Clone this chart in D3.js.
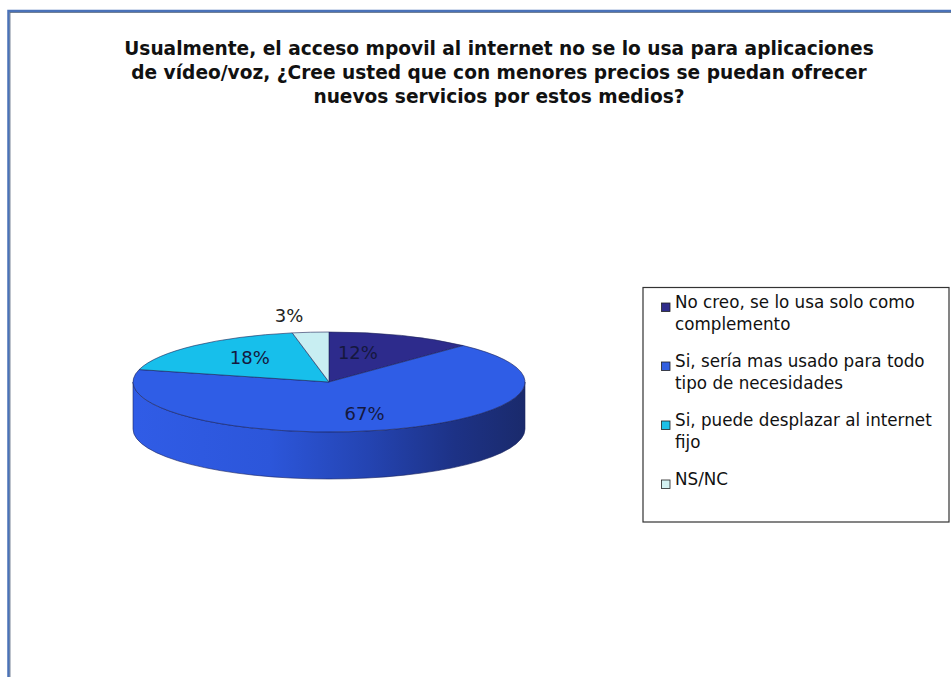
<!DOCTYPE html>
<html>
<head>
<meta charset="utf-8">
<script src="https://cdn.jsdelivr.net/npm/d3@7"></script>
<style>
  html, body { margin: 0; padding: 0; background: #ffffff; }
  svg { display: block; }
</style>
</head>
<body>
<svg id="chart" width="951" height="677"></svg>
<script>
// Survey answers and their shares (percent)
const categories = [
  "No creo, se lo usa solo como complemento",
  "Si, sería mas usado para todo tipo de necesidades",
  "Si, puede desplazar al internet fijo",
  "NS/NC"
];
const values = [12, 67, 18, 3];
const legendLines = [
  ["No creo, se lo usa solo como", "complemento"],
  ["Si, sería mas usado para todo", "tipo de necesidades"],
  ["Si, puede desplazar al internet", "fijo"],
  ["NS/NC"]
];
const titleLines = [
  "Usualmente, el acceso mpovil al internet no se lo usa para aplicaciones",
  "de vídeo/voz, ¿Cree usted que con menores precios se puedan ofrecer",
  "nuevos servicios por estos medios?"
];

const topColors = ["#2d2b8c", "#2f5de6", "#17bfeb", "#c8eef2"];
const swatchColors = ["#2f2c8a", "#3360e0", "#1cc0e8", "#d4f1f1"];
const font = "'DejaVu Sans', Verdana, sans-serif";

const svg = d3.select("#chart");

// Scale a text block's font so that one line spans the wanted width
function fitFont(sel, probe, width) {
  const len = probe.node().getComputedTextLength();
  const size = parseFloat(probe.attr("font-size"));
  const s = size * width / len;
  sel.attr("font-size", s);
  return s;
}

// Outer frame (runs off the right and bottom edges)
svg.append("rect")
  .attr("x", 8.5).attr("y", 11)
  .attr("width", 1000).attr("height", 800)
  .attr("fill", "#fff")
  .attr("stroke", "#4a72b8").attr("stroke-width", 2.5);
svg.append("rect")
  .attr("x", 10).attr("y", 12.5)
  .attr("width", 1000).attr("height", 800)
  .attr("fill", "none")
  .attr("stroke", "#5a6a80").attr("stroke-width", 0.8);

// Title
const title = svg.append("g").selectAll("text")
  .data(titleLines).join("text")
  .attr("x", 499)
  .attr("y", (d, i) => 55 + i * 24)
  .attr("text-anchor", "middle")
  .attr("font-family", font)
  .attr("font-weight", "bold")
  .attr("font-size", 16)
  .attr("fill", "#111")
  .text(d => d);
fitFont(title, d3.select(title.nodes()[0]), 750);

// 3D pie geometry
const cx = 329, cy = 382, rx = 196, ry = 50, depth = 47;
const pt = (a, dy = 0) => [cx + rx * Math.sin(a), cy - ry * Math.cos(a) + dy];

const arcs = d3.pie().sort(null).value(d => d)(values);

const defs = svg.append("defs");
const grad = defs.append("linearGradient")
  .attr("id", "sideGrad")
  .attr("gradientUnits", "userSpaceOnUse")
  .attr("x1", cx - rx).attr("x2", cx + rx).attr("y1", 0).attr("y2", 0);
[[0, "#305ce6"], [0.35, "#2c56da"], [0.6, "#2444b2"], [0.82, "#1d3286"], [1, "#1a2a6c"]]
  .forEach(([o, c]) => grad.append("stop").attr("offset", o).attr("stop-color", c));

// Side walls: only the front half of the ellipse (angles between PI/2 and 3PI/2) is visible
const sideG = svg.append("g");
arcs.forEach(a => {
  const s = Math.max(a.startAngle, Math.PI / 2);
  const e = Math.min(a.endAngle, 3 * Math.PI / 2);
  if (e <= s) return;
  const p0 = pt(s), p1 = pt(e), q1 = pt(e, depth), q0 = pt(s, depth);
  const large = (e - s) > Math.PI ? 1 : 0;
  const d = `M${p0}A${rx},${ry} 0 ${large} 1 ${p1}L${q1}A${rx},${ry} 0 ${large} 0 ${q0}Z`;
  sideG.append("path")
    .attr("d", d)
    .attr("fill", "url(#sideGrad)")
    .attr("stroke", "#1b2560").attr("stroke-width", 0.6);
});

// Top face slices
const topG = svg.append("g");
arcs.forEach((a, i) => {
  const p0 = pt(a.startAngle), p1 = pt(a.endAngle);
  const large = (a.endAngle - a.startAngle) > Math.PI ? 1 : 0;
  topG.append("path")
    .attr("d", `M${cx},${cy}L${p0}A${rx},${ry} 0 ${large} 1 ${p1}Z`)
    .attr("fill", topColors[i])
    .attr("stroke", "#1c2358").attr("stroke-width", 0.6)
    .attr("stroke-linejoin", "round");
});

// Percentage labels: inside the slice, small slices outside the rim
const labelNudge = [[-18, 1], [0, 0], [8, -1], [-16, -2]];
const labelG = svg.append("g");
arcs.forEach((a, i) => {
  const mid = (a.startAngle + a.endAngle) / 2;
  const f = a.data < 5 ? 1.3 : 0.65;
  const x = cx + rx * f * Math.sin(mid) + labelNudge[i][0];
  const y = cy - ry * f * Math.cos(mid) + labelNudge[i][1];
  labelG.append("text")
    .attr("x", x).attr("y", y)
    .attr("dy", "0.36em")
    .attr("text-anchor", "middle")
    .attr("font-family", font)
    .attr("font-size", 18)
    .attr("fill", a.data < 5 ? "#222" : "#15183e")
    .text(Math.round(a.data) + "%");
});

// Legend
const legend = svg.append("g");
legend.append("rect")
  .attr("x", 643).attr("y", 287.5)
  .attr("width", 306).attr("height", 234.5)
  .attr("fill", "#fff")
  .attr("stroke", "#333").attr("stroke-width", 1.2);

const itemY = [308, 367, 426, 485];
const lineGap = 22;
const legendTexts = [];
categories.forEach((c, i) => {
  legend.append("rect")
    .attr("x", 661.5).attr("y", itemY[i] - 5)
    .attr("width", 8.5).attr("height", 8.5)
    .attr("fill", swatchColors[i])
    .attr("stroke", "#222").attr("stroke-width", 0.8);
  const t = legend.append("text")
    .attr("x", 675).attr("y", itemY[i])
    .attr("dy", "0.42em")
    .attr("font-family", font)
    .attr("font-size", 16)
    .attr("fill", "#111");
  t.selectAll("tspan")
    .data(legendLines[i]).join("tspan")
    .attr("x", 675)
    .attr("dy", (d, j) => j === 0 ? 0 : lineGap)
    .text(d => d);
  legendTexts.push(t);
});
// size the legend font from the widest line ("Si, puede desplazar al internet")
{
  const probe = legendTexts[2].select("tspan");
  const len = probe.node().getComputedTextLength();
  const s = 16 * 257 / len;
  legendTexts.forEach(t => t.attr("font-size", s));
}
</script>
</body>
</html>
